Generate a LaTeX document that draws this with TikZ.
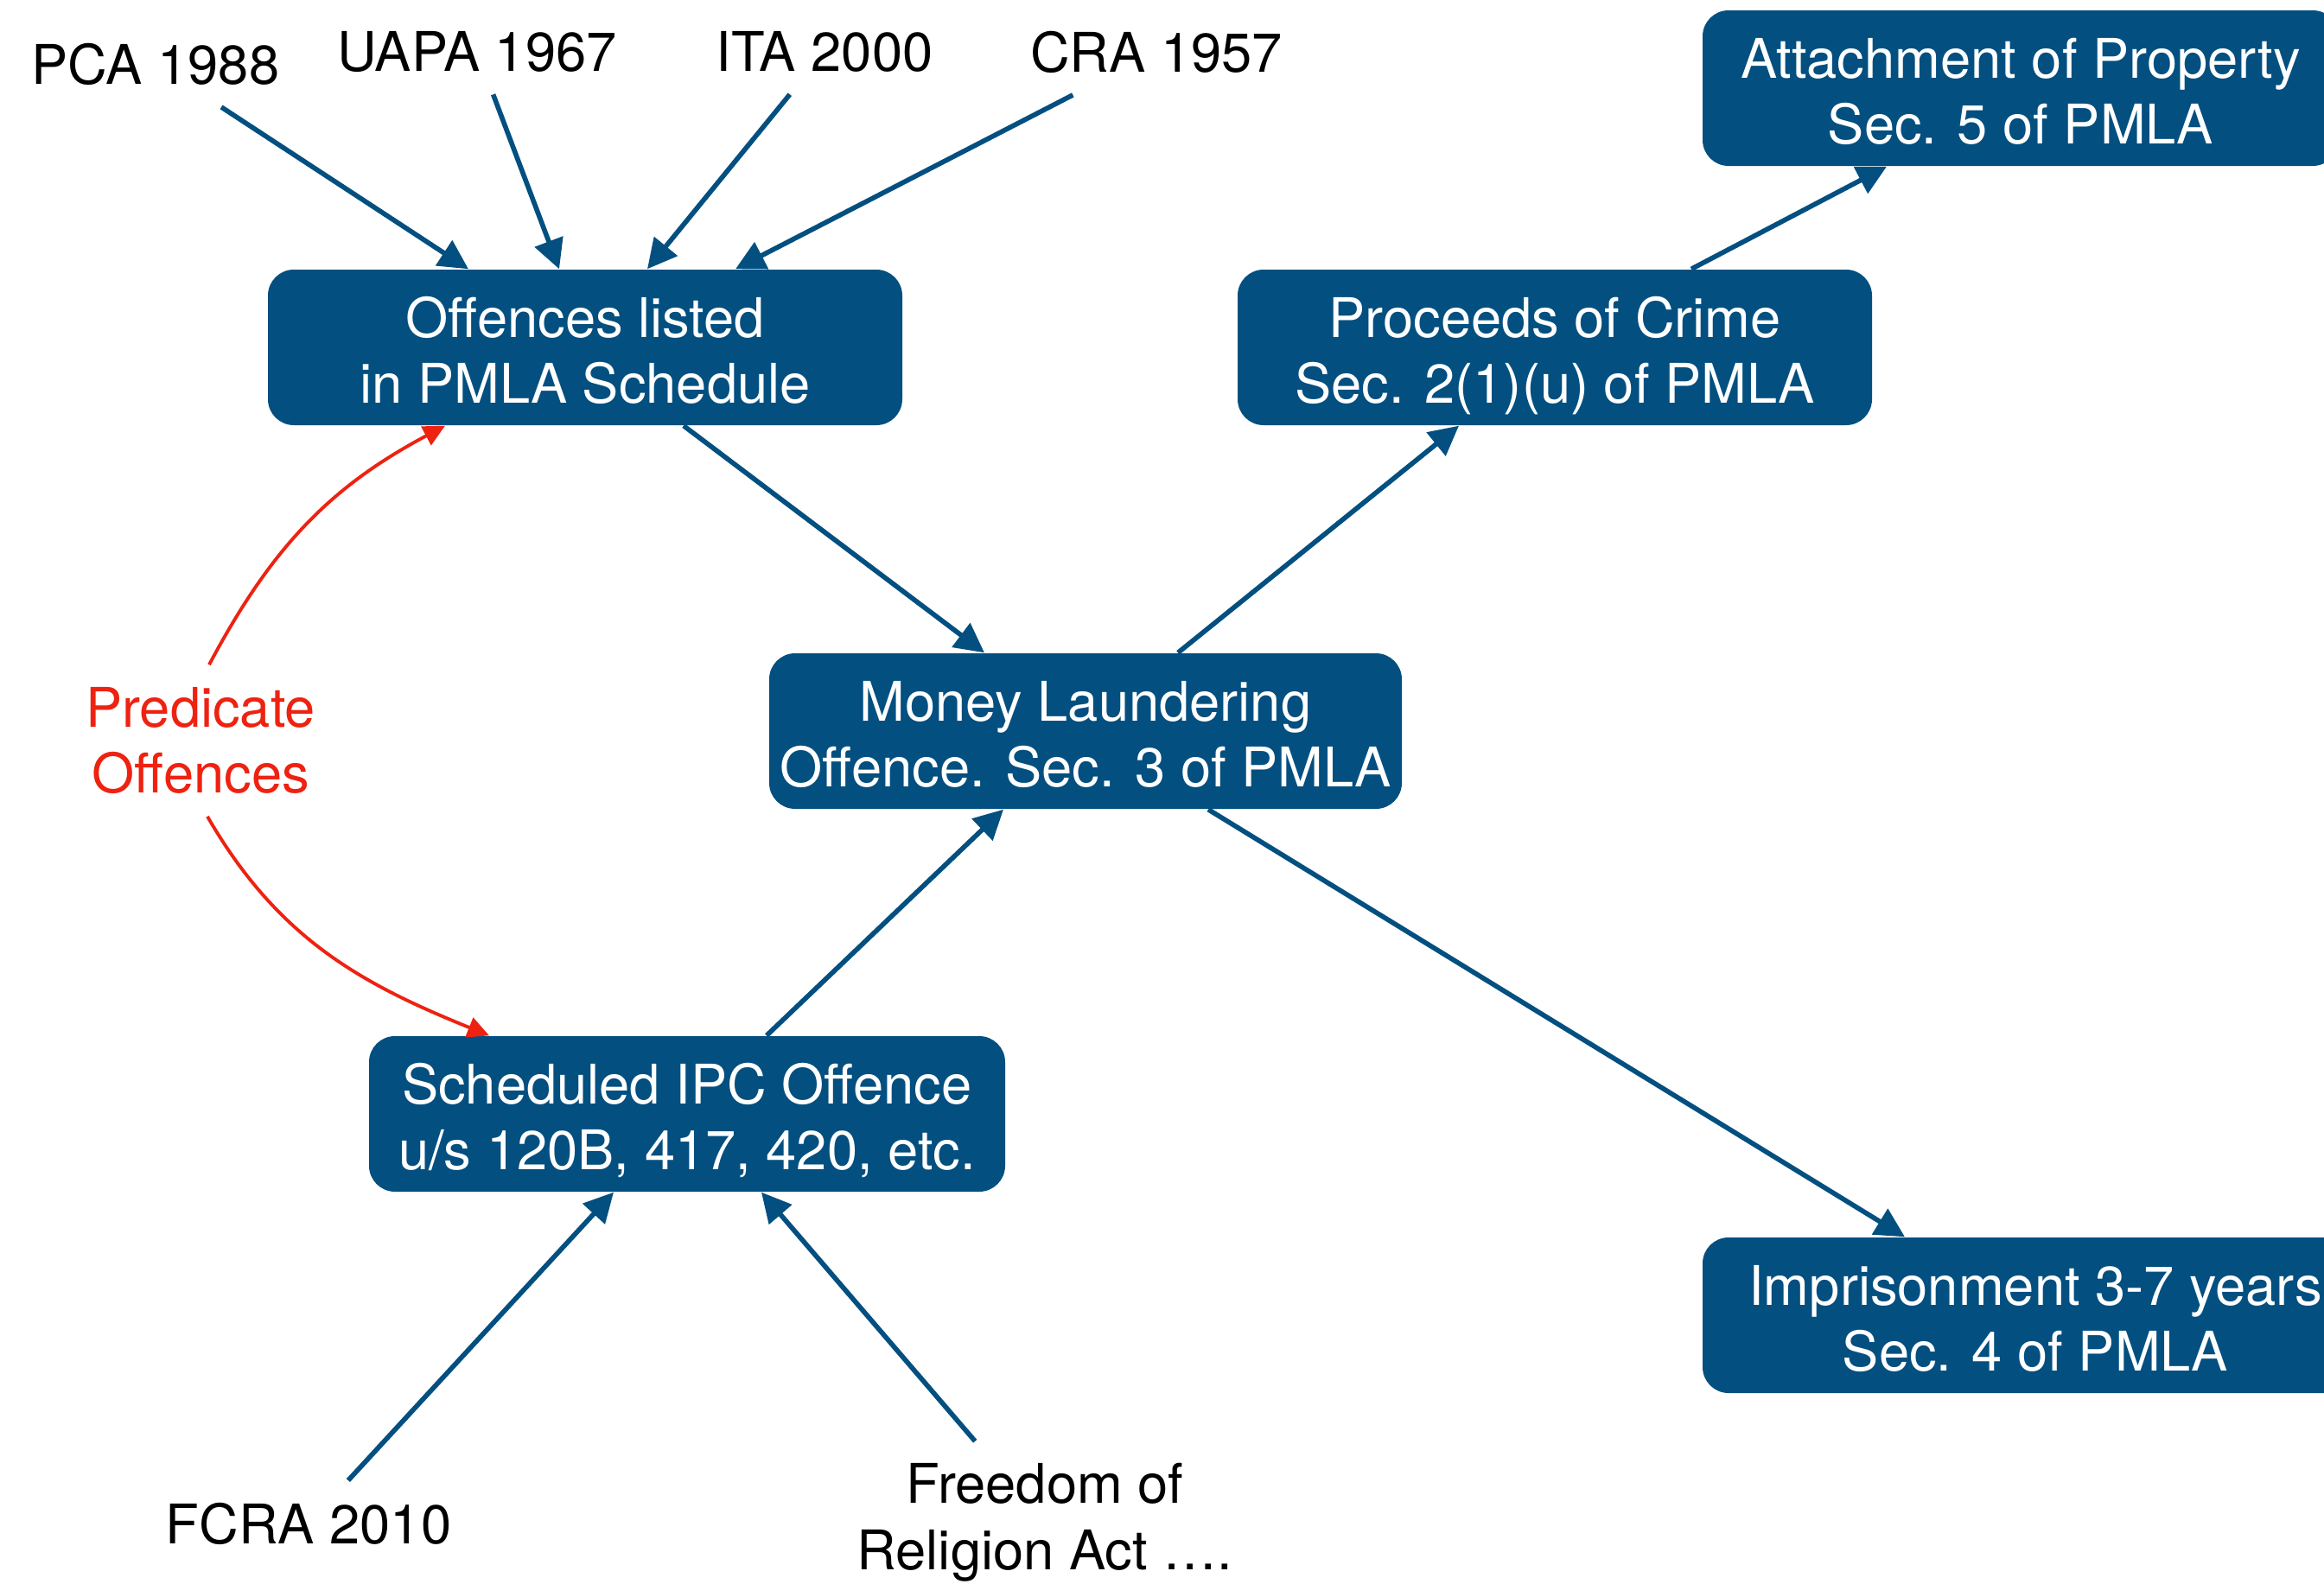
\documentclass[tikz,border=0pt]{standalone}
\usepackage{fontspec}
\setmainfont{TeX Gyre Heros}
\usepackage{tikz}
\usetikzlibrary{positioning, shapes.geometric, arrows.meta}
\definecolor{pmblue}{RGB}{2,79,128}
\definecolor{pmred}{RGB}{238,34,17}
\newcommand{\pmfont}{\fontsize{18pt}{21.9pt}\selectfont}
% struts so that every box has the same text height and depth
\newcommand{\tstrut}{\rule{0pt}{0.70cm}}
\newcommand{\bstrut}{\rule[-0.17cm]{0pt}{0pt}}
\tikzset{
	provision/.style n args={1}{
		rectangle, % Shape of the node
		rounded corners=0.3cm, % Soft corners
		minimum height=1.8cm, % Minimum height of the node
		minimum width=#1, % Width given as parameter
		inner ysep=0pt, % Height comes from minimum height
		align=center, % Text alignment within the node
		fill=pmblue, % Fill colour
		text=white,
		font=\pmfont
	},
	act/.style={
		align=center,
		inner xsep=0.1cm,
		inner ysep=0.25cm,
		font=\pmfont
	},
	law/.style={
		draw=pmblue,
		line width=1.6pt,
		-{Triangle[length=3.4mm, width=3.4mm]}
	},
	predline/.style={
		draw=pmred,
		line width=1.1pt,
		-{Triangle[length=2.5mm, width=2.4mm]}
	}
}
\begin{document}
\begin{tikzpicture}[node distance = 0.5cm]
	\useasboundingbox (0,0) rectangle (26.89,-18.33);
	\clip (0,0) rectangle (26.89,-18.33);
	
	\node[act] (pca) at (1.80,-0.74) {PCA 1988};
	\node[act] (uapa) at (5.52,-0.60) {UAPA 1967};
	\node[act, node distance=4.02cm, right of = uapa] (ita) {ITA 2000};
	\node[act, node distance=3.84cm, right of = ita] (cra) {CRA 1957};
	\node[act, text=pmred] (pred) at (2.32,-8.57) {Predicate\\Offences};
	\node[act] (fcra) at (3.57,-17.63) {FCRA 2010};
	\node[act] (frel) at (12.09,-17.62) {Freedom of\\Religion Act ….};
	
	\node[provision=7.34cm] (off) at (6.77,-4.02) {\tstrut Offences listed\\in PMLA Schedule\bstrut};
	\node[provision=7.34cm, node distance=11.22cm, right of = off] (poc) {\tstrut Proceeds of Crime\\Sec. 2(1)(u) of PMLA\bstrut};
	\node[provision=7.36cm] (att) at (23.38,-1.02) {\tstrut Attachment of Property\\Sec. 5 of PMLA\bstrut};
	\node[provision=7.32cm] (ml) at (12.56,-8.46) {\tstrut Money Laundering\\Offence. Sec. 3 of PMLA\bstrut};
	\node[provision=7.36cm] (ipc) at (7.95,-12.89) {\tstrut Scheduled IPC Offence\\u/s 120B, 417, 420, etc.\bstrut};
	\node[provision=7.70cm] (imp) at (23.55,-15.22) {\tstrut Imprisonment 3-7 years\\Sec. 4 of PMLA\bstrut};
	
	\draw[law] (pca) -- ([xshift=-1.35cm]off.north);
	\draw[law] (uapa) -- ([xshift=-0.30cm]off.north);
	\draw[law] (ita) -- ([xshift=0.72cm]off.north);
	\draw[law] (cra) -- ([xshift=1.74cm]off.north);
	
	\draw[law] ([xshift=1.14cm]off.south) -- ([xshift=-1.17cm]ml.north);
	\draw[law] ([xshift=1.07cm]ml.north) -- ([xshift=-1.11cm]poc.south);
	\draw[law] ([xshift=1.58cm]poc.north) -- ([xshift=-1.55cm]att.south);
	\draw[law] ([xshift=1.42cm]ml.south) -- ([xshift=-1.51cm]imp.north);
	\draw[law] ([xshift=0.92cm]ipc.north) -- ([xshift=-0.95cm]ml.south);
	
	\draw[law] (fcra) -- ([xshift=-0.85cm]ipc.south);
	\draw[law] (frel) -- ([xshift=0.86cm]ipc.south);
	
	\draw[predline] ([xshift=0.1cm]pred.north) to[out=62, in=208] ([xshift=-1.62cm]off.south);
	\draw[predline] ([xshift=0.08cm]pred.south) to[out=-60, in=158] ([xshift=-2.29cm]ipc.north);
	
\end{tikzpicture}
\end{document}
